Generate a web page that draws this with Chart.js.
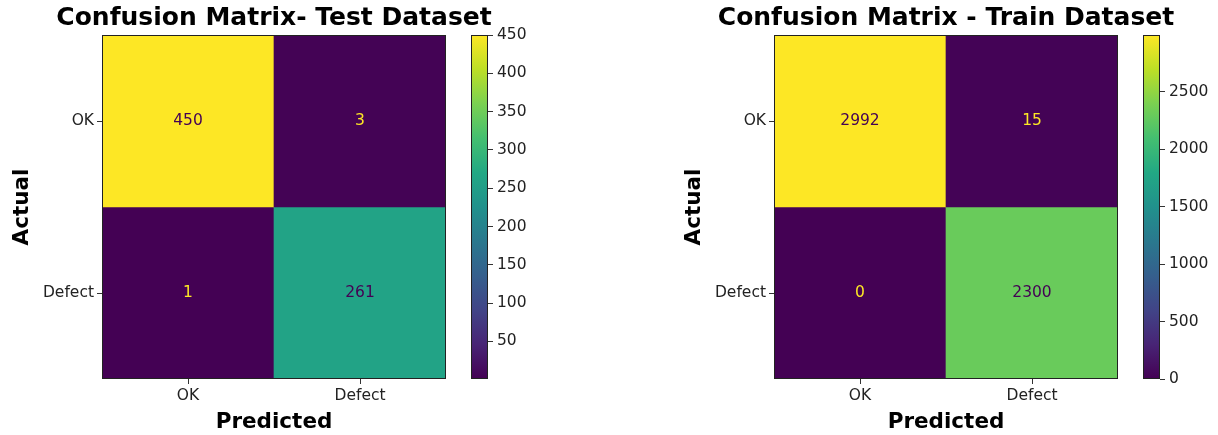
<!DOCTYPE html>
<html>
<head>
<meta charset="utf-8">
<script src="https://cdn.jsdelivr.net/npm/chart.js@4"></script>
<style>
  body { margin: 0; background: #fff; }
  #wrap { position: relative; width: 1218px; height: 435px; overflow: hidden; }
  canvas { position: absolute; top: 0; }
</style>
</head>
<body>
<div id="wrap">
  <canvas id="testMatrix" width="560" height="435" style="left:0px"></canvas>
  <canvas id="testBar" width="80" height="435" style="left:460px"></canvas>
  <canvas id="trainMatrix" width="546" height="435" style="left:672px"></canvas>
  <canvas id="trainBar" width="86" height="435" style="left:1132px"></canvas>
</div>
<script>
// clases (filas = real, columnas = predicho)
const CLASSES = ['OK', 'Defect'];

// matriz de test
const TEST_ROW_OK = [450, 3];
const TEST_ROW_DEFECT = [1, 261];
const TEST_CB_TICKS = [50, 100, 150, 200, 250, 300, 350, 400, 450];

// matriz de train
const TRAIN_ROW_OK = [2992, 15];
const TRAIN_ROW_DEFECT = [0, 2300];
const TRAIN_CB_TICKS = [0, 500, 1000, 1500, 2000, 2500];

// mapa de color viridis (muestras cada 0.1)
const VIRIDIS = ['#440154', '#482475', '#414487', '#355f8d', '#2a788e', '#21918c',
                 '#22a884', '#44bf70', '#7ad151', '#bddf26', '#fde725'];

const FONT = 'DejaVu Sans';
const TXT = '#222';

function hexToRgb(h) {
    return [parseInt(h.slice(1, 3), 16), parseInt(h.slice(3, 5), 16), parseInt(h.slice(5, 7), 16)];
}

function viridis(t) {
    t = Math.max(0, Math.min(1, t));
    const p = t * 10;
    const i = Math.min(9, Math.floor(p));
    const f = p - i;
    const a = hexToRgb(VIRIDIS[i]), b = hexToRgb(VIRIDIS[i + 1]);
    const c = a.map((v, k) => Math.round(v + (b[k] - v) * f));
    return 'rgb(' + c.join(',') + ')';
}

// dibuja el marco completo del área de la gráfica
const frame = {
    id: 'frame',
    afterDraw(chart) {
        const a = chart.chartArea, ctx = chart.ctx;
        ctx.save();
        ctx.strokeStyle = '#222';
        ctx.lineWidth = 1;
        ctx.strokeRect(a.left + 0.5, a.top + 0.5, a.right - a.left - 1, a.bottom - a.top - 1);
        ctx.restore();
    }
};

// título centrado sobre el área de la matriz (sin recortar el ancho)
const areaTitle = {
    id: 'areaTitle',
    afterDraw(chart, args, opts) {
        const a = chart.chartArea, ctx = chart.ctx;
        ctx.save();
        ctx.font = 'bold 25px "' + FONT + '"';
        ctx.fillStyle = '#000';
        ctx.textAlign = 'center';
        ctx.textBaseline = 'middle';
        ctx.fillText(opts.text, (a.left + a.right) / 2, 18);
        ctx.restore();
    }
};

// valores en cada celda
const cellText = {
    id: 'cellText',
    afterDatasetsDraw(chart) {
        const ctx = chart.ctx;
        ctx.save();
        ctx.font = '15.5px "' + FONT + '"';
        ctx.textAlign = 'center';
        ctx.textBaseline = 'middle';
        chart.data.datasets.forEach((ds, di) => {
            chart.getDatasetMeta(di).data.forEach((el, j) => {
                const v = ds.values[j];
                ctx.fillStyle = v < ds.thresh ? VIRIDIS[10] : VIRIDIS[0];
                ctx.fillText(String(v), el.x, (el.y + el.base) / 2);
            });
        });
        ctx.restore();
    }
};

function makeMatrix(id, title, rows, padRight) {
    const all = rows.flat();
    const vmin = Math.min(...all), vmax = Math.max(...all);
    const thresh = (vmin + vmax) / 2;
    const datasets = rows.map((row, i) => ({
        label: CLASSES[i],
        values: row,
        thresh: thresh,
        data: row.map(() => [i - 0.5, i + 0.5]),
        backgroundColor: row.map(v => viridis((v - vmin) / (vmax - vmin))),
        borderWidth: 0,
        grouped: false,
        barPercentage: 1,
        categoryPercentage: 1
    }));
    return new Chart(document.getElementById(id), {
        type: 'bar',
        data: { labels: CLASSES, datasets: datasets },
        plugins: [cellText, frame, areaTitle],
        options: {
            responsive: false,
            animation: false,
            layout: { padding: { left: 0, right: padRight, top: 35, bottom: 0 } },
            plugins: {
                legend: { display: false },
                tooltip: { enabled: false },
                title: { display: false },
                areaTitle: { text: title }
            },
            scales: {
                x: {
                    type: 'category',
                    offset: true,
                    afterFit: s => { s.height = 56; },
                    grid: { offset: false, drawOnChartArea: false, drawTicks: true, tickLength: 5, color: '#333' },
                    border: { display: false },
                    ticks: { color: TXT, font: { family: FONT, size: 15.5 }, padding: 3, maxRotation: 0 },
                    title: {
                        display: true, text: 'Predicted', color: '#000',
                        font: { family: FONT, size: 21.5, weight: 'bold' },
                        padding: { top: 0, bottom: 0 }
                    }
                },
                y: {
                    type: 'linear',
                    min: -0.5,
                    max: 1.5,
                    reverse: true,
                    afterFit: s => { s.width = 102; },
                    afterBuildTicks: s => { s.ticks = CLASSES.map((c, i) => ({ value: i })); },
                    grid: { drawOnChartArea: false, drawTicks: true, tickLength: 5, color: '#333' },
                    border: { display: false },
                    ticks: {
                        color: TXT, font: { family: FONT, size: 15.5 }, padding: 3,
                        callback: v => CLASSES[v]
                    },
                    title: {
                        display: true, text: 'Actual', color: '#000',
                        font: { family: FONT, size: 21.5, weight: 'bold' },
                        padding: { top: 10, bottom: 0 }
                    }
                }
            }
        }
    });
}

function makeColorbar(id, rows, ticks, barW) {
    const all = rows.flat();
    const vmin = Math.min(...all), vmax = Math.max(...all);
    return new Chart(document.getElementById(id), {
        type: 'bar',
        data: {
            labels: [''],
            datasets: [{
                data: [[vmin, vmax]],
                backgroundColor: ctx => {
                    const a = ctx.chart.chartArea;
                    if (!a) return VIRIDIS[0];
                    const g = ctx.chart.ctx.createLinearGradient(0, a.bottom, 0, a.top);
                    VIRIDIS.forEach((c, i) => g.addColorStop(i / 10, c));
                    return g;
                },
                borderWidth: 0,
                barPercentage: 1,
                categoryPercentage: 1
            }]
        },
        plugins: [frame],
        options: {
            responsive: false,
            animation: false,
            layout: { padding: { left: 11, right: 0, top: 35, bottom: 56 } },
            plugins: { legend: { display: false }, tooltip: { enabled: false } },
            scales: {
                x: { display: false },
                y: {
                    position: 'right',
                    min: vmin,
                    max: vmax,
                    afterFit: s => { s.width = barW; },
                    afterBuildTicks: s => { s.ticks = ticks.map(v => ({ value: v })); },
                    grid: { drawOnChartArea: false, drawTicks: true, tickLength: 5, color: '#333' },
                    border: { display: false },
                    ticks: {
                        color: TXT, font: { family: FONT, size: 15.5 }, padding: 4,
                        callback: v => String(v)
                    }
                }
            }
        }
    });
}

document.addEventListener('DOMContentLoaded', function() {
    makeMatrix('testMatrix', 'Confusion Matrix- Test Dataset', [TEST_ROW_OK, TEST_ROW_DEFECT], 114);
    makeColorbar('testBar', [TEST_ROW_OK, TEST_ROW_DEFECT], TEST_CB_TICKS, 52);
    makeMatrix('trainMatrix', 'Confusion Matrix - Train Dataset', [TRAIN_ROW_OK, TRAIN_ROW_DEFECT], 100);
    makeColorbar('trainBar', [TRAIN_ROW_OK, TRAIN_ROW_DEFECT], TRAIN_CB_TICKS, 58);
});
</script>
</body>
</html>
